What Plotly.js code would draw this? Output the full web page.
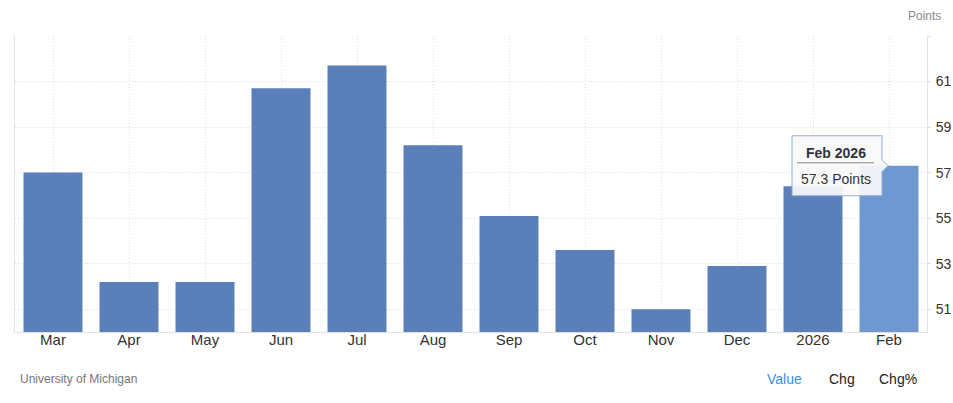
<!DOCTYPE html>
<html>
<head>
<meta charset="utf-8">
<script src="https://cdn.plot.ly/plotly-3.0.1.min.js"></script>
<style>
  html, body { margin: 0; padding: 0; background: #fff; }
  #chart { width: 953px; height: 403px; }
</style>
</head>
<body>
<div id="chart"></div>
<script>
// Data
var categories = ['Mar', 'Apr', 'May', 'Jun', 'Jul', 'Aug', 'Sep', 'Oct', 'Nov', 'Dec', '2026', 'Feb'];
var values = [57.0, 52.2, 52.2, 60.7, 61.7, 58.2, 55.1, 53.6, 51.0, 52.9, 56.4, 57.3];
var yTickVals = [51, 53, 55, 57, 59, 61, 63];
var yTickText = ['51', '53', '55', '57', '59', '61', ''];
var tooltipTitle = 'Feb 2026';
var tooltipValue = '57.3 Points';
var unitLabel = 'Points';
var sourceLabel = 'University of Michigan';
var tabLabels = ['Value', 'Chg', 'Chg%'];

var lastIdx = categories.length - 1;
var barColors = categories.map(function (c, i) { return i === lastIdx ? '#6f98d0' : '#5b7fb8'; });
var fontFam = '"Liberation Sans", Arial, Helvetica, sans-serif';

var trace = {
  type: 'bar',
  x: categories,
  y: values,
  marker: { color: barColors, line: { width: 0 } },
  hoverinfo: 'skip'
};

var layout = {
  width: 953,
  height: 403,
  margin: { l: 15, r: 26, t: 36, b: 71, pad: 0 },
  paper_bgcolor: '#ffffff',
  plot_bgcolor: '#ffffff',
  font: { family: fontFam, color: '#333333' },
  showlegend: false,
  bargap: 0.224,
  xaxis: {
    type: 'category',
    showgrid: true,
    gridcolor: '#dddddd',
    griddash: '1px,2px',
    gridwidth: 1,
    showline: true,
    linecolor: '#e2e2e2',
    linewidth: 1,
    ticks: '',
    tickfont: { size: 15, color: '#333333', family: fontFam },
    ticklabelstandoff: -6,
    fixedrange: true
  },
  yaxis: {
    side: 'right',
    range: [50, 63],
    tickmode: 'array',
    tickvals: yTickVals,
    ticktext: yTickText,
    showgrid: true,
    gridcolor: '#dddddd',
    griddash: '1px,2px',
    gridwidth: 1,
    zeroline: false,
    showline: true,
    mirror: true,
    linecolor: '#e2e2e2',
    linewidth: 1,
    ticks: 'outside',
    ticklen: 3,
    tickcolor: '#dddddd',
    tickfont: { size: 14, color: '#333333', family: fontFam },
    ticklabelstandoff: 2,
    fixedrange: true
  },
  shapes: [
    {
      type: 'path',
      xref: 'x', yref: 'y',
      xsizemode: 'pixel', ysizemode: 'pixel',
      xanchor: lastIdx, yanchor: values[lastIdx],
      path: 'M -97 30 L -7 30 L -7 6 L -1 0 L -7 -6 L -7 -30 L -97 -30 Z',
      fillcolor: 'rgba(248,248,248,0.92)',
      line: { color: '#8aaedc', width: 1 },
      layer: 'above'
    },
    {
      type: 'line',
      xref: 'x', yref: 'y',
      xsizemode: 'pixel', ysizemode: 'pixel',
      xanchor: lastIdx, yanchor: values[lastIdx],
      x0: -92, x1: -15, y0: 3, y1: 3,
      line: { color: '#888888', width: 1 },
      layer: 'above'
    }
  ],
  annotations: [
    {
      xref: 'x', yref: 'y', x: lastIdx, y: values[lastIdx],
      xanchor: 'center', yanchor: 'middle',
      xshift: -53, yshift: 13,
      text: '<b>' + tooltipTitle + '</b>',
      showarrow: false,
      font: { size: 14, color: '#333333', family: fontFam }
    },
    {
      xref: 'x', yref: 'y', x: lastIdx, y: values[lastIdx],
      xanchor: 'center', yanchor: 'middle',
      xshift: -53, yshift: -13,
      text: tooltipValue,
      showarrow: false,
      font: { size: 14, color: '#333333', family: fontFam }
    },
    {
      xref: 'paper', yref: 'paper', x: 1, y: 1,
      xanchor: 'right', yanchor: 'middle',
      xshift: 16, yshift: 20,
      text: unitLabel,
      showarrow: false,
      font: { size: 12, color: '#888888', family: fontFam }
    },
    {
      xref: 'paper', yref: 'paper', x: 0, y: 0,
      xanchor: 'left', yanchor: 'middle',
      xshift: 3, yshift: -47,
      text: sourceLabel,
      showarrow: false,
      font: { size: 12, color: '#777777', family: fontFam }
    },
    {
      xref: 'paper', yref: 'paper', x: 1, y: 0,
      xanchor: 'left', yanchor: 'middle',
      xshift: 765 - 927, yshift: -47,
      text: tabLabels[0],
      showarrow: false,
      font: { size: 14, color: '#3d8fe8', family: fontFam }
    },
    {
      xref: 'paper', yref: 'paper', x: 1, y: 0,
      xanchor: 'left', yanchor: 'middle',
      xshift: 827 - 927, yshift: -47,
      text: tabLabels[1],
      showarrow: false,
      font: { size: 14, color: '#222222', family: fontFam }
    },
    {
      xref: 'paper', yref: 'paper', x: 1, y: 0,
      xanchor: 'left', yanchor: 'middle',
      xshift: 877 - 927, yshift: -47,
      text: tabLabels[2],
      showarrow: false,
      font: { size: 14, color: '#222222', family: fontFam }
    }
  ]
};

Plotly.newPlot('chart', [trace], layout, { displayModeBar: false, staticPlot: true });
</script>
</body>
</html>
